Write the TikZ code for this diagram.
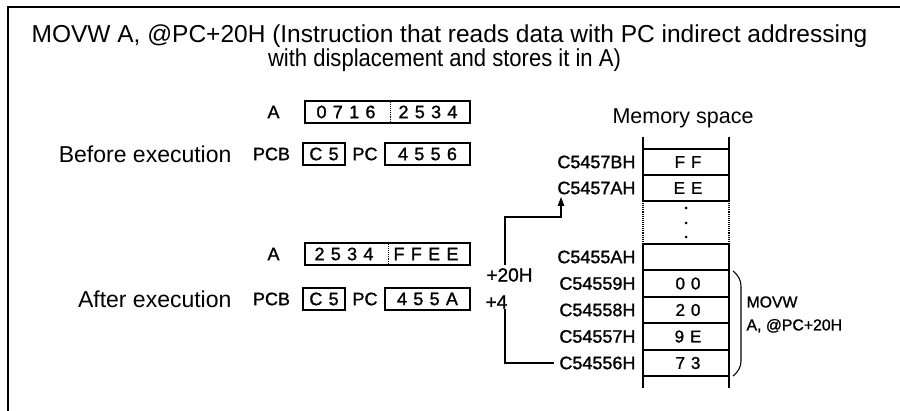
\documentclass[tikz,border=0pt]{standalone}
\usepackage{fontspec}
\setmainfont{Liberation Sans}
\newfontfamily\regfont[LetterSpace=35,FakeBold=1.2]{Liberation Sans}
\newfontfamily\medfont[FakeBold=1.2]{Liberation Sans}
\newfontfamily\condfont[FakeStretch=0.9]{Liberation Sans}
\usetikzlibrary{arrows.meta}
\begin{document}
\begin{tikzpicture}[x=1pt,y=-1pt,line width=1.1pt,
  big/.style={inner sep=0pt, font=\fontsize{23}{26}\selectfont},
  lbl/.style={inner sep=0pt, font=\medfont\fontsize{18}{20}\selectfont},
  digits/.style={inner sep=0pt, font=\regfont\fontsize{18}{20}\selectfont},
  regbox/.style={draw, line width=1.2pt, inner sep=0pt, minimum height=22pt, font=\regfont\fontsize{18}{20}\selectfont},
  cell/.style={inner sep=0pt, font=\regfont\fontsize{17}{20}\selectfont},
  addr/.style={inner sep=0pt, anchor=east, font=\medfont\fontsize{18}{20}\selectfont},
  conn/.style={line width=1.1pt}]
\useasboundingbox (0,0) rectangle (900,411);
% frame (top and left edges)
\draw[line width=2pt] (900,7) -- (8,7) -- (8,411);
% title
\node[inner sep=0pt, font=\fontsize{24.5}{24}\selectfont] (title1) at (449.5,36)
  {MOVW A, @PC+20H (Instruction that reads data with PC indirect addressing};
\node[inner sep=0pt, font=\condfont\fontsize{24.5}{24}\selectfont] (title2) at (444.5,60)
  {with displacement and stores it in A)};
% before execution
\node[lbl] (a1lab) at (273.5,112) {A};
\node[regbox, minimum width=165pt] (a1) at (387.5,112) {};
\node[digits] (a1h) at (346,112) {0716};
\node[digits] (a1l) at (428,112) {2534};
\draw[densely dotted, line width=0.9pt] (a1.north -| 390,0) -- (a1.south -| 390,0);
\node[big, anchor=east] (bef) at (232,154) {Before execution};
\node[lbl] (pcb1) at (271.5,154) {PCB};
\node[regbox, minimum width=42pt] (c51) at (324,154) {C5};
\node[lbl] (pc1) at (365,154) {PC};
\node[regbox, minimum width=85pt] (pcv1) at (427.5,154) {4556};
% after execution
\node[lbl] (a2lab) at (273.5,254) {A};
\node[regbox, minimum width=165pt] (a2) at (387.5,254) {};
\node[digits] (a2h) at (344,254) {2534};
\node[digits] (a2l) at (426,254) {FFEE};
\draw[densely dotted, line width=0.9pt] (a2.north -| 388,0) -- (a2.south -| 388,0);
\node[big, anchor=east] (aft) at (232,299) {After execution};
\node[lbl] (pcb2) at (271.5,299) {PCB};
\node[regbox, minimum width=42pt] (c52) at (324,299) {C5};
\node[lbl] (pc2) at (365,299) {PC};
\node[regbox, minimum width=85pt] (pcv2) at (427.5,299) {455A};
% memory space
\node[inner sep=0pt, font=\fontsize{21.5}{24}\selectfont] (memt) at (683,118) {Memory space};
\draw (643,137) -- (643,201);
\draw[densely dotted] (643,201) -- (643,244);
\draw (643,244) -- (643,388);
\draw (729,137) -- (729,201);
\draw[densely dotted] (729,201) -- (729,244);
\draw (729,244) -- (729,388);
\foreach \y in {149,175,201,244,270,297,323,350,376} \draw (643,\y) -- (729,\y);
\foreach \y in {208,223,237} \fill (686,\y) circle (1.5);
\node[cell] (v7B) at (688,162) {FF};
\node[cell] (v7A) at (688,188) {EE};
\node[cell] (v59) at (688,283.5) {00};
\node[cell] (v58) at (688,310) {20};
\node[cell] (v57) at (688,336.5) {9E};
\node[cell] (v56) at (688,363) {73};
\node[addr] (l7B) at (636,162) {C5457BH};
\node[addr] (l7A) at (636,188) {C5457AH};
\node[addr] (l5A) at (636,257) {C5455AH};
\node[addr] (l59) at (636,283.5) {C54559H};
\node[addr] (l58) at (636,310) {C54558H};
\node[addr] (l57) at (636,336.5) {C54557H};
\node[addr] (l56) at (636,363) {C54556H};
% displacement arrow
\node[lbl, font=\medfont\fontsize{19}{20}\selectfont] (p20) at (509.5,275) {+20H};
\node[lbl, font=\medfont\fontsize{19}{20}\selectfont] (p4) at (496.5,302) {+4};
\coordinate (c1) at (505,363);
\coordinate (c2) at (505,309);
\coordinate (c3) at (505,265);
\coordinate (c4) at (505,217);
\coordinate (tip) at (561,197);
\draw[conn, shorten <=5pt] (l56.west) -- (c1) -- (c2);
\draw[conn, -{Triangle[length=9pt,width=6.5pt]}] (c3) -- (c4) -| (tip);
% brace
\draw (733,271) .. controls (738,275) and (741,280) .. (741,286) -- (741,361) .. controls (741,367) and (738,372) .. (733,376);
\node[inner sep=0pt, anchor=west, align=left, font=\medfont\fontsize{15.8}{23}\selectfont] (instr) at (746,314.5) {MOVW\\A, @PC+20H};
\end{tikzpicture}
\end{document}
